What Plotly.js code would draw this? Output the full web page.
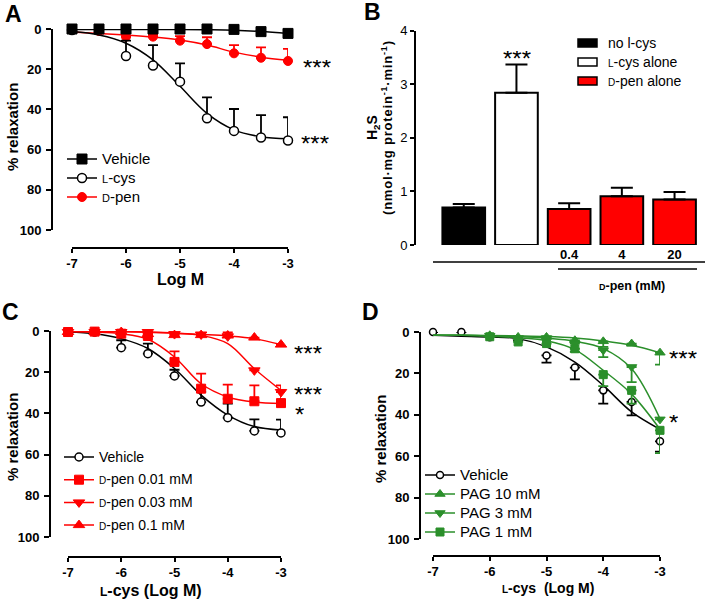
<!DOCTYPE html>
<html><head><meta charset="utf-8">
<script src="https://cdn.plot.ly/plotly-3.0.1.min.js"></script>
<style>body{margin:0;background:#fff}#chart{width:709px;height:601px}</style>
</head><body><div id="chart"></div>
<script>
// ---------- shared axis data ----------
const logDose = [-7, -6.5, -6, -5.5, -5, -4.5, -4, -3.5, -3];
const xTickVals = [-7, -6, -5, -4, -3];
const xTickText = ['-7', '-6', '-5', '-4', '-3'];
const yTickVals = [0, 20, 40, 60, 80, 100];
const yTickText = ['0', '20', '40', '60', '80', '100'];

// ---------- Panel A ----------
const vehA      = [0, 0, 0, 0, 0, 0, 0.2, 1.3, 2.2];
const vehCurveA = [0.3, 0.3, 0.3, 0.3, 0.3, 0.4, 0.6, 1.2, 2.2];
const lcysA      = [0.5, null, 13.4, 18.2, 26.2, 44.4, 50.7, 54.0, 55.5];
const lcysErrA   = [0, 0, 7.6, 10.2, 9.1, 10.4, 10.9, 11.2, 11.6];
const lcysCurveA = [1.3, 3.0, 7.1, 15.4, 28.5, 42.0, 50.2, 53.6, 54.6];
const dpenA      = [0.5, 1.0, 3.8, 3.8, 5.8, 7.5, 12.1, 14.3, 15.9];
const dpenErrA   = [0, 0, 0, 1.0, 2.3, 3.4, 4.1, 5.2, 6.0];
const dpenCurveA = [1.5, 2.2, 3.0, 4.0, 5.5, 8.0, 11.5, 14.0, 15.5];

// ---------- Panel B ----------
const bCategories = ['no l-cys', 'L-cys alone', 'D-pen 0.4', 'D-pen 4', 'D-pen 20'];
const bValues = [0.70, 2.84, 0.67, 0.91, 0.85];
const bErrors = [0.065, 0.53, 0.11, 0.16, 0.14];
const bTickText = ['', '', '0.4', '4', '20'];
const bYTicks = [0, 1, 2, 3, 4];

// ---------- Panel C ----------
const vehC       = [0.5, 0.5, 8.1, 11.0, 21.8, 34.5, 42.1, 48.5, 49.5];
const vehErrC    = [0, 0, 3.6, 4.9, 3.0, 5.0, 6.8, 5.6, 6.5];
const vehCurveC  = [0.5, 1.3, 3.7, 8.5, 18.2, 31.1, 40.8, 46.4, 48.1];
const pen001C      = [0.5, 0.3, 1.3, 2.4, 15.0, 28.0, 32.9, 34.1, 35.0];
const pen001ErrC   = [0, 0, 0, 1.5, 5.1, 7.3, 6.9, 7.7, 8.6];
const pen001CurveC = [0.3, 0.5, 1.3, 4.0, 12.6, 25.6, 32.0, 34.5, 35.2];
const pen003C      = [0.5, 0.5, 0.5, 0.5, 1.5, 1.7, 2.6, 19.1, 29.6];
const pen003ErrC   = [0, 0, 0, 0, 0, 0, 1.0, 0, 0];
const pen003CurveC = [0.3, 0.3, 0.3, 0.5, 1.0, 2.1, 6.1, 18.3, 28.8];
const pen01C       = [0.5, 0.5, 0.5, 1.5, 2.0, 2.0, 2.2, 3.2, 6.6];
const pen01ErrC    = [0, 0, 0, 0, 0, 0, 1.5, 0, 0];
const pen01CurveC  = [0.3, 0.3, 0.4, 0.6, 1.1, 1.7, 2.4, 3.7, 6.6];

// ---------- Panel D ----------
const vehD       = [0, 0, 2.5, 4.0, 11.3, 17.2, 28.2, 33.8, 52.8];
const vehErrD    = [0, 0, 0, 0, 3.5, 5.7, 6.4, 6.5, 5.0];
const vehCurveD  = [1.6, 2.0, 2.4, 3.2, 7.2, 14.5, 25.8, 38.6, 47.0];
const pag10D      = [null, null, 1.6, 2.4, 2.4, 4.0, 4.5, 5.6, 10.0];
const pag10ErrD   = [0, 0, 0, 0, 0, 0, 2.7, 1.0, 5.8];
const pag10CurveD = [1.6, 1.6, 1.7, 1.9, 2.2, 2.9, 4.3, 6.4, 10.0];
const pag3D       = [null, null, 1.8, 2.9, 2.9, 5.6, 8.8, 16.9, 42.2];
const pag3ErrD    = [0, 0, 0, 0, 0, 0, 3.3, 7.3, 0];
const pag3CurveD  = [1.6, 1.6, 1.8, 2.2, 3.0, 4.5, 8.0, 17.7, 41.9];
const pag1D       = [null, null, 2.3, 4.8, 5.6, 8.1, 20.6, 28.2, 47.5];
const pag1ErrD    = [0, 0, 0, 0, 0, 1.5, 5.5, 6.4, 11.0];
const pag1CurveD  = [1.6, 1.6, 2.0, 2.8, 4.2, 8.5, 18.5, 30.0, 47.0];

// ---------- styling / helpers ----------
const W = 709, H = 601;
const FONT = 'Liberation Sans, Arial, Helvetica, sans-serif';
const RED = '#ff0000', GREEN = '#2b8f2b', BLACK = '#000000';
const px = v => v / W;
const py = v => 1 - v / H;
const zeros = n => new Array(n).fill(0);
const sc = (t, s) => '<span style="font-size:' + s + 'px">' + t + '</span>';

const traces = [];
function series(opt) {
  // fitted curve
  traces.push({x: logDose, y: opt.curve, xaxis: opt.xa, yaxis: opt.ya, mode: 'lines',
    line: {color: opt.color, width: 1.5, shape: 'spline', smoothing: 1},
    showlegend: false, hoverinfo: 'skip', cliponaxis: false});
  // data points + one-sided error bars
  const err = {type: 'data', symmetric: false, color: opt.color, thickness: 1.8, width: opt.cap || 5};
  if (opt.down) { err.array = opt.err; err.arrayminus = zeros(opt.err.length); }
  else { err.array = zeros(opt.err.length); err.arrayminus = opt.err; }
  traces.push({x: logDose, y: opt.y, xaxis: opt.xa, yaxis: opt.ya, mode: 'markers',
    marker: opt.marker, error_y: err, showlegend: false, hoverinfo: 'skip', cliponaxis: false});
  // legend entry (no data)
  traces.push({x: [null], y: [null], xaxis: opt.xa, yaxis: opt.ya, mode: 'lines+markers',
    name: opt.name, legend: opt.legend, legendgroup: opt.name + opt.legend,
    line: {color: opt.color, width: 1.5}, marker: opt.marker, showlegend: true});
}

// Panel A (drawn so that vehicle is on top)
series({xa: 'x', ya: 'y', y: dpenA, err: dpenErrA, curve: dpenCurveA, color: RED, legend: 'legend',
  name: sc('<span style="font-size:11px">D</span>-pen', 15),
  marker: {symbol: 'circle', size: 9, color: RED, line: {color: RED, width: 1}}});
series({xa: 'x', ya: 'y', y: lcysA, err: lcysErrA, curve: lcysCurveA, color: BLACK, legend: 'legend',
  name: sc('<span style="font-size:11px">L</span>-cys', 15),
  marker: {symbol: 'circle', size: 9, color: '#ffffff', line: {color: BLACK, width: 1.5}}});
series({xa: 'x', ya: 'y', y: vehA, err: zeros(9), curve: vehCurveA, color: BLACK, legend: 'legend',
  name: sc('Vehicle', 15),
  marker: {symbol: 'square', size: 10, color: BLACK, line: {color: BLACK, width: 1}}});

// Panel B bars
traces.push({type: 'bar', x: [0, 1, 2, 3, 4], y: bValues, text: bCategories, textposition: 'none',
  xaxis: 'x2', yaxis: 'y2', width: 0.81,
  marker: {color: ['#000000', '#ffffff', RED, RED, RED], line: {color: BLACK, width: 2}},
  error_y: {type: 'data', symmetric: false, array: bErrors, arrayminus: zeros(5), color: BLACK, thickness: 2, width: 11},
  showlegend: false, hoverinfo: 'skip'});

// Panel C
series({xa: 'x3', ya: 'y3', y: vehC, err: vehErrC, curve: vehCurveC, color: BLACK, legend: 'legend2',
  name: sc('Vehicle', 14),
  marker: {symbol: 'circle', size: 8, color: '#ffffff', line: {color: BLACK, width: 1.5}}});
series({xa: 'x3', ya: 'y3', y: pen001C, err: pen001ErrC, curve: pen001CurveC, color: RED, legend: 'legend2',
  name: sc('<span style="font-size:10px">D</span>-pen 0.01 mM', 14),
  marker: {symbol: 'square', size: 9, color: RED, line: {color: RED, width: 1}}});
series({xa: 'x3', ya: 'y3', y: pen003C, err: pen003ErrC, curve: pen003CurveC, color: RED, legend: 'legend2',
  name: sc('<span style="font-size:10px">D</span>-pen 0.03 mM', 14),
  marker: {symbol: 'triangle-down', size: 10, color: RED, line: {color: RED, width: 1}}});
series({xa: 'x3', ya: 'y3', y: pen01C, err: pen01ErrC, curve: pen01CurveC, color: RED, legend: 'legend2',
  name: sc('<span style="font-size:10px">D</span>-pen 0.1 mM', 14),
  marker: {symbol: 'triangle-up', size: 10, color: RED, line: {color: RED, width: 1}}});

// Panel D
series({xa: 'x4', ya: 'y4', y: vehD, err: vehErrD, curve: vehCurveD, color: BLACK, legend: 'legend3', down: true,
  name: sc('Vehicle', 15),
  marker: {symbol: 'circle', size: 7, color: '#ffffff', line: {color: BLACK, width: 1.5}}});
series({xa: 'x4', ya: 'y4', y: pag10D, err: pag10ErrD, curve: pag10CurveD, color: GREEN, legend: 'legend3', down: true,
  name: sc('PAG 10 mM', 15),
  marker: {symbol: 'triangle-up', size: 9, color: GREEN, line: {color: GREEN, width: 1}}});
series({xa: 'x4', ya: 'y4', y: pag3D, err: pag3ErrD, curve: pag3CurveD, color: GREEN, legend: 'legend3', down: true,
  name: sc('PAG 3 mM', 15),
  marker: {symbol: 'triangle-down', size: 9, color: GREEN, line: {color: GREEN, width: 1}}});
series({xa: 'x4', ya: 'y4', y: pag1D, err: pag1ErrD, curve: pag1CurveD, color: GREEN, legend: 'legend3', down: true,
  name: sc('PAG 1 mM', 15),
  marker: {symbol: 'square', size: 8, color: GREEN, line: {color: GREEN, width: 1}}});

// ---------- axes ----------
const tickBold = {family: FONT, size: 13, color: BLACK, weight: 'bold'};
function xAx(d0, d1, pos) {
  return {domain: [px(d0), px(d1)], range: [-7, -3], anchor: 'free', position: py(pos),
    tickmode: 'array', tickvals: xTickVals, ticktext: xTickText, ticks: 'outside', ticklen: 4, tickwidth: 2,
    tickcolor: BLACK, showline: true, linewidth: 2, linecolor: BLACK, showgrid: false, zeroline: false,
    tickfont: tickBold, ticklabelstandoff: -1, fixedrange: true};
}
function yAx(top, bottom, pos) {
  return {domain: [py(bottom), py(top)], range: [100, 0], anchor: 'free', position: px(pos),
    tickmode: 'array', tickvals: yTickVals, ticktext: yTickText, ticks: 'outside', ticklen: 5, tickwidth: 2,
    tickcolor: BLACK, showline: true, linewidth: 2, linecolor: BLACK, showgrid: false, zeroline: false,
    tickfont: tickBold, ticklabelstandoff: 2, fixedrange: true};
}

// ---------- annotations ----------
const ann = [];
function txt(x, y, text, o) {
  ann.push(Object.assign({xref: 'paper', yref: 'paper', x: px(x), y: py(y), text: text, showarrow: false,
    xanchor: 'center', yanchor: 'middle', font: {family: FONT, size: 14, color: BLACK}}, o || {}));
}
const bold = (s) => ({family: FONT, size: s, color: BLACK, weight: 'bold'});
txt(13, 14, 'A', {font: bold(23)});
txt(372, 12, 'B', {font: bold(23)});
txt(10, 312, 'C', {font: bold(23)});
txt(370, 312, 'D', {font: bold(23)});
txt(12, 127, '% relaxation', {font: bold(15), textangle: -90});
txt(12, 437, '% relaxation', {font: bold(15), textangle: -90});
txt(380, 439, '% relaxation', {font: bold(15), textangle: -90});
txt(180, 279, 'Log M', {font: bold(16)});
txt(151, 590, '<span style="font-size:12px">L</span>-cys (Log M)', {font: bold(16)});
txt(548, 588, '<span style="font-size:10px">L</span>-cys\u00a0\u00a0(Log M)', {font: bold(14)});
txt(373, 127, 'H<sub>2</sub>S', {font: bold(14), textangle: -90});
txt(387, 128, '<span style="letter-spacing:0.8px">(nmol\u00b7mg protein<sup>-1</sup>\u00b7min<sup>-1</sup>)</span>', {font: bold(13), textangle: -90});
txt(632, 286, '<span style="font-size:9px">D</span>-pen (mM)', {font: bold(12.5)});
// B legend text
txt(606, 43, 'no l-cys', {xanchor: 'left', font: {family: FONT, size: 14, color: BLACK}});
txt(606, 62, '<span style="font-size:10px">L</span>-cys alone', {xanchor: 'left', font: {family: FONT, size: 14, color: BLACK}});
txt(606, 81, '<span style="font-size:10px">D</span>-pen alone', {xanchor: 'left', font: {family: FONT, size: 14, color: BLACK}});
// significance stars
const starFont = {family: FONT, size: 24, color: BLACK};
const star = (x, y, s) => txt(x, y + 6, s, {font: starFont, height: 14});
star(317, 61, '***'); star(315, 137, '***');
star(517, 52, '***');
star(308, 347, '***'); star(308, 388, '***'); star(299, 408, '*');
star(683, 352, '***'); star(673, 416, '*');

// ---------- shapes (B legend swatches and bracket lines) ----------
const shapes = [
  {type: 'rect', xref: 'paper', yref: 'paper', x0: px(578), x1: px(597), y0: py(39), y1: py(47), fillcolor: '#000000', line: {color: BLACK, width: 1.5}},
  {type: 'rect', xref: 'paper', yref: 'paper', x0: px(578), x1: px(597), y0: py(58), y1: py(66), fillcolor: '#ffffff', line: {color: BLACK, width: 1.5}},
  {type: 'rect', xref: 'paper', yref: 'paper', x0: px(578), x1: px(597), y0: py(77), y1: py(85), fillcolor: RED, line: {color: BLACK, width: 1.5}},
  {type: 'line', xref: 'paper', yref: 'paper', x0: px(433), x1: px(705), y0: py(262), y1: py(262), line: {color: BLACK, width: 1.5}},
  {type: 'line', xref: 'paper', yref: 'paper', x0: px(558), x1: px(697), y0: py(269), y1: py(269), line: {color: BLACK, width: 1.5}}
];

const legBase = {bgcolor: 'rgba(0,0,0,0)', borderwidth: 0, xanchor: 'left', yanchor: 'top',
  font: {family: FONT, size: 12, color: BLACK}, itemclick: false, itemdoubleclick: false};

const layout = {
  width: W, height: H, margin: {l: 0, r: 0, t: 0, b: 0},
  paper_bgcolor: '#ffffff', plot_bgcolor: 'rgba(0,0,0,0)',
  font: {family: FONT, color: BLACK},
  xaxis: xAx(72, 288, 248),
  yaxis: yAx(29, 230, 52),
  xaxis2: {domain: [px(437.4), px(700.9)], range: [-0.5, 4.5], anchor: 'y2', showline: false, ticks: '',
    tickmode: 'array', tickvals: [0, 1, 2, 3, 4], ticktext: bTickText, showgrid: false, zeroline: false,
    tickfont: tickBold, fixedrange: true},
  yaxis2: {domain: [py(245), py(30.7)], range: [0, 4], anchor: 'free', position: px(415),
    tickmode: 'array', tickvals: bYTicks, ticktext: bYTicks.map(String), ticks: 'outside', ticklen: 4, tickwidth: 2,
    tickcolor: BLACK, showline: true, linewidth: 2, linecolor: BLACK, showgrid: false, zeroline: false,
    tickfont: {family: FONT, size: 13, color: BLACK}, ticklabelstandoff: 0, fixedrange: true},
  xaxis3: xAx(68, 281, 557),
  yaxis3: yAx(331, 537, 50),
  xaxis4: xAx(433, 660, 556),
  yaxis4: yAx(332, 539, 420),
  legend: Object.assign({}, legBase, {x: px(62), y: py(144.5), traceorder: 'reversed'}),
  legend2: Object.assign({}, legBase, {x: px(59), y: py(442.5), tracegroupgap: 3.7, traceorder: 'grouped'}),
  legend3: Object.assign({}, legBase, {x: px(420), y: py(460.5), tracegroupgap: 0, traceorder: 'grouped'}),
  annotations: ann,
  shapes: shapes,
  showlegend: true
};

Plotly.newPlot('chart', traces, layout, {displayModeBar: false, staticPlot: true});
</script>
</body></html>
